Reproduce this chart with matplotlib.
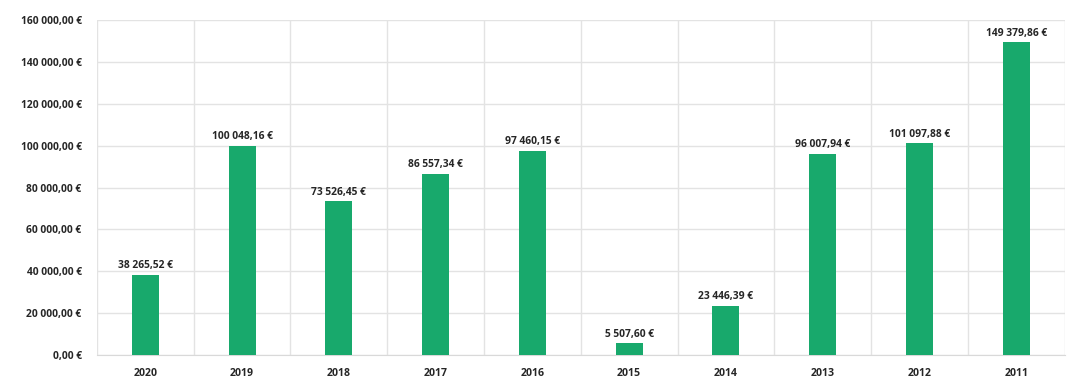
import matplotlib
matplotlib.use("Agg")
import matplotlib.pyplot as plt
from matplotlib.ticker import FuncFormatter, MultipleLocator

years = ["2020", "2019", "2018", "2017", "2016", "2015", "2014", "2013", "2012", "2011"]
amounts = [38265.52, 100048.16, 73526.45, 86557.34, 97460.15,
           5507.60, 23446.39, 96007.94, 101097.88, 149379.86]

BAR_COLOR = "#18a96c"
GRID_COLOR = "#e3e3e3"
TEXT_COLOR = "#262626"

plt.rcParams["font.family"] = ["Open Sans", "DejaVu Sans"]


def euro(v, decimals=2):
    s = f"{v:,.{decimals}f}"
    s = s.replace(",", " ").replace(".", ",")
    return f"{s} €"


fig = plt.figure(figsize=(10.68, 3.81), dpi=100)
ax = fig.add_axes([0.0908, 0.0682, 0.906, 0.8793])

x = range(len(years))
ax.bar(x, amounts, width=0.28, color=BAR_COLOR, zorder=3)

for xi, v in zip(x, amounts):
    ax.text(xi, v + 1700, euro(v), ha="center", va="bottom",
            fontsize=7.4, fontweight="bold", color=TEXT_COLOR)

ax.set_xlim(-0.5, len(years) - 0.5)
ax.set_ylim(0, 160000)
ax.yaxis.set_major_locator(MultipleLocator(20000))
ax.yaxis.set_major_formatter(FuncFormatter(lambda v, _: euro(v)))
ax.set_xticks(list(x))
ax.set_xticklabels(years)

# category separators and value gridlines
ax.set_xticks([i + 0.5 for i in range(-1, len(years))], minor=True)
ax.grid(axis="x", which="minor", color=GRID_COLOR, linewidth=1, zorder=0)
ax.grid(axis="y", which="major", color=GRID_COLOR, linewidth=1, zorder=0)

for s in ax.spines.values():
    s.set_visible(False)
ax.spines["bottom"].set_visible(True)
ax.spines["bottom"].set_color("#d9d9d9")

ax.tick_params(axis="both", which="both", length=0)
ax.tick_params(axis="y", pad=11, labelsize=7.4, labelcolor=TEXT_COLOR)
ax.tick_params(axis="x", pad=9, labelsize=7.6, labelcolor=TEXT_COLOR)
for lbl in ax.get_xticklabels() + ax.get_yticklabels():
    lbl.set_fontweight("bold")

fig.savefig("out.png", dpi=100)
